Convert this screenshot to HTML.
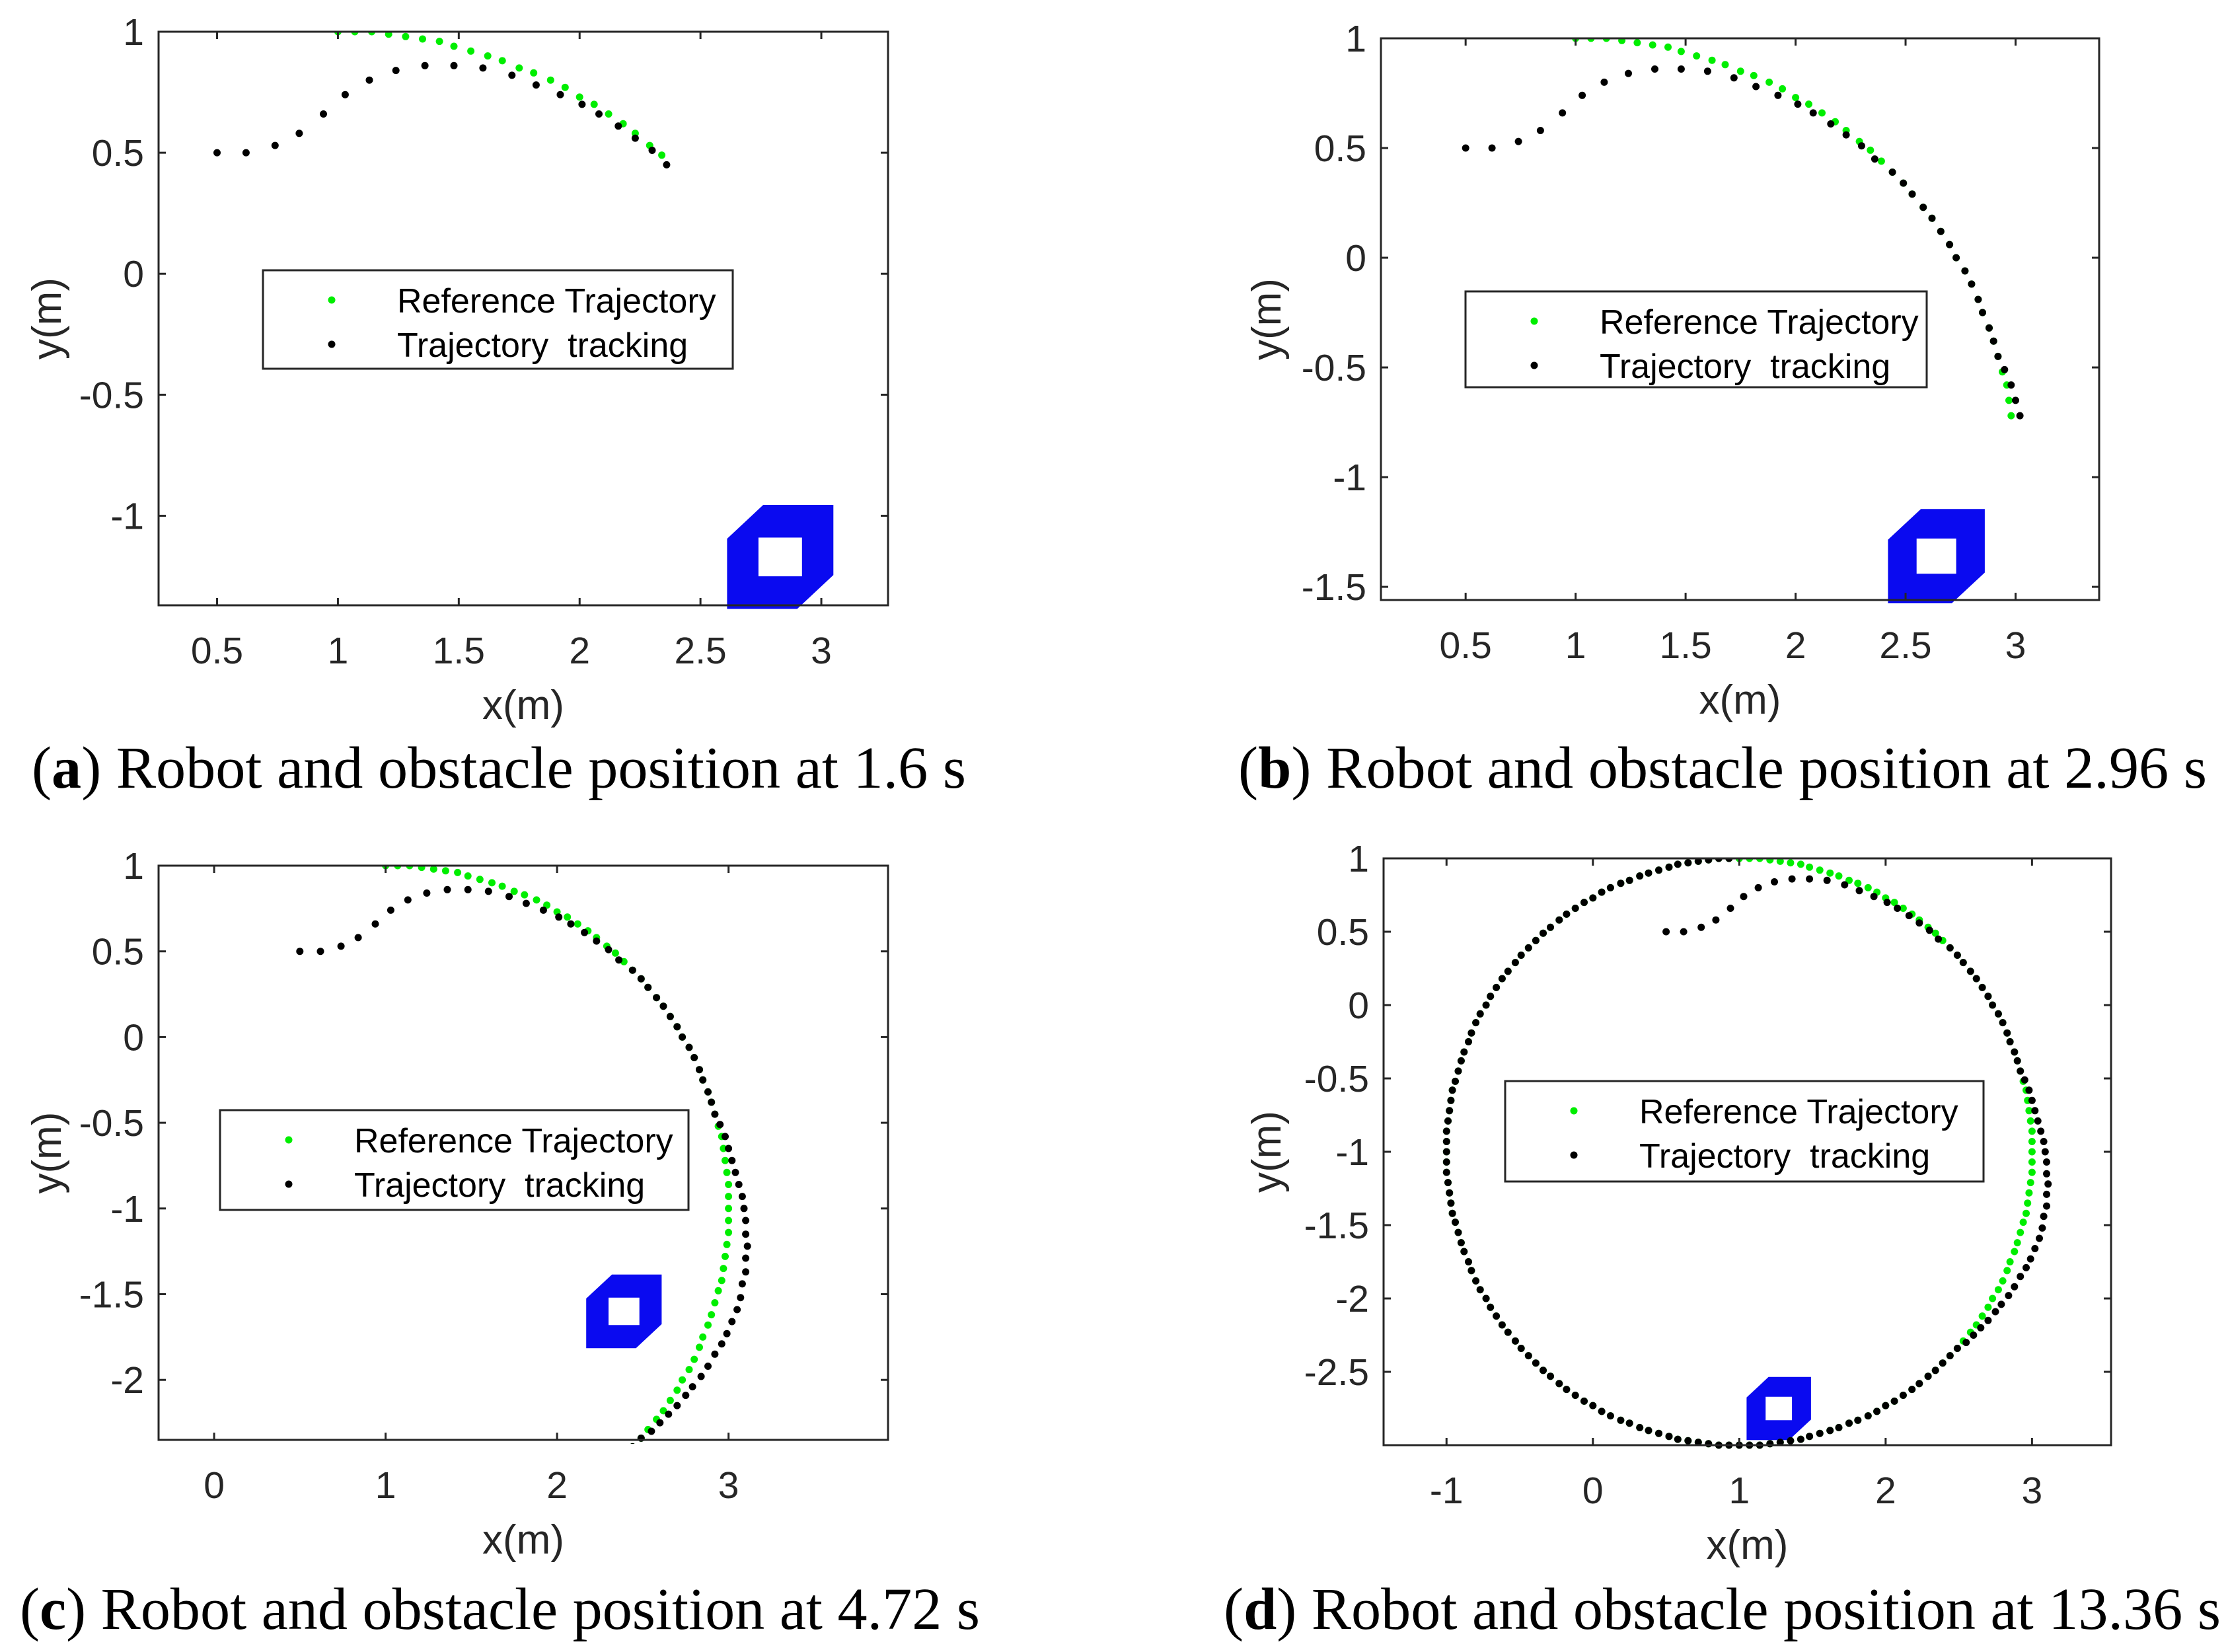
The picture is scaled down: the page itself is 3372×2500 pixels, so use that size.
<!DOCTYPE html>
<html><head><meta charset="utf-8">
<style>
html,body{margin:0;padding:0;background:#fff;}
svg{display:block;}
.tick{font-family:"Liberation Sans",sans-serif;font-size:57px;fill:#262626;}
.atitle{font-family:"Liberation Sans",sans-serif;font-size:62px;fill:#262626;}
.leg{font-family:"Liberation Sans",sans-serif;font-size:52px;fill:#000;white-space:pre;}
.cap{font-family:"Liberation Serif",serif;font-size:90px;fill:#000;}
</style></head>
<body>
<svg id="fig" width="3372" height="2500" viewBox="0 0 3372 2500" xmlns="http://www.w3.org/2000/svg"></svg>
<script>
// ---- data ----
const refX = [1.00,1.07,1.14,1.21,1.28,1.35,1.42,1.48,1.55,1.62,1.68,1.75,1.81,1.88,1.94,2.00,2.06,2.12,2.18,2.23,2.29,2.34,2.39,2.44,2.49,2.53,2.58,2.62,2.66,2.70,2.73,2.77,2.80,2.83,2.85,2.88,2.90,2.92,2.94,2.96,2.97,2.98,2.99,3.00,3.00,3.00,
3.00,3.00,2.99,2.98,2.97,2.96,2.94,2.92,2.90,2.88,2.85,2.83,2.80,2.77,2.73,2.70,2.66,2.62,2.58,2.53,2.49,2.44,2.39,2.34,2.29,2.23,2.18,2.12,2.06,2.00,1.94,1.88,1.81,1.75,1.68,1.62,1.55,1.48,1.42,1.35,1.28,1.21,1.14,1.07,1.00,
0.93,0.86,0.79,0.72,0.65,0.58,0.52,0.45,0.38,0.32,0.25,0.19,0.12,0.06,0.00,-0.06,-0.12,-0.18,-0.23,-0.29,-0.34,-0.39,-0.44,-0.49,-0.53,-0.58,-0.62,-0.66,-0.70,-0.73,-0.77,-0.80,-0.83,-0.85,-0.88,-0.90,-0.92,-0.94,-0.96,-0.97,-0.98,-0.99,-1.00,-1.00,-1.00,
-1.00,-1.00,-0.99,-0.98,-0.97,-0.96,-0.94,-0.92,-0.90,-0.88,-0.85,-0.83,-0.80,-0.77,-0.73,-0.70,-0.66,-0.62,-0.58,-0.53,-0.49,-0.44,-0.39,-0.34,-0.29,-0.23,-0.18,-0.12,-0.06,0.00,0.06,0.12,0.19,0.25,0.32,0.38,0.45,0.52,0.58,0.65,0.72,0.79,0.86,0.93,1.00];
const refY = [1.00,1.00,1.00,0.99,0.98,0.97,0.96,0.94,0.92,0.90,0.88,0.85,0.83,0.80,0.77,0.73,0.70,0.66,0.62,0.58,0.53,0.49,0.44,0.39,0.34,0.29,0.23,0.18,0.12,0.06,0.00,-0.06,-0.12,-0.19,-0.25,-0.32,-0.38,-0.45,-0.52,-0.58,-0.65,-0.72,-0.79,-0.86,-0.93,-1.00,
-1.07,-1.14,-1.21,-1.28,-1.35,-1.42,-1.48,-1.55,-1.62,-1.68,-1.75,-1.81,-1.88,-1.94,-2.00,-2.06,-2.12,-2.18,-2.23,-2.29,-2.34,-2.39,-2.44,-2.49,-2.53,-2.58,-2.62,-2.66,-2.70,-2.73,-2.77,-2.80,-2.83,-2.85,-2.88,-2.90,-2.92,-2.94,-2.96,-2.97,-2.98,-2.99,-3.00,-3.00,-3.00,
-3.00,-3.00,-2.99,-2.98,-2.97,-2.96,-2.94,-2.92,-2.90,-2.88,-2.85,-2.83,-2.80,-2.77,-2.73,-2.70,-2.66,-2.62,-2.58,-2.53,-2.49,-2.44,-2.39,-2.34,-2.29,-2.23,-2.18,-2.12,-2.06,-2.00,-1.94,-1.88,-1.81,-1.75,-1.68,-1.62,-1.55,-1.48,-1.42,-1.35,-1.28,-1.21,-1.14,-1.07,-1.00,
-0.93,-0.86,-0.79,-0.72,-0.65,-0.58,-0.52,-0.45,-0.38,-0.32,-0.25,-0.19,-0.12,-0.06,0.00,0.06,0.12,0.18,0.23,0.29,0.34,0.39,0.44,0.49,0.53,0.58,0.62,0.66,0.70,0.73,0.77,0.80,0.83,0.85,0.88,0.90,0.92,0.94,0.96,0.97,0.98,0.99,1.00,1.00,1.00];
const trackX = [0.50,0.62,0.74,0.84,0.94,1.03,1.13,1.24,1.36,1.48,1.60,1.72,1.82,1.92,2.01,2.08,2.16,2.23,2.30,2.36,
2.44,2.49,2.53,2.58,2.62,2.66,2.70,2.73,2.77,2.80,2.83,2.85,2.88,2.90,2.92,
2.95,2.98,3.00,3.02,3.04,3.06,3.08,3.09,3.10,3.10,3.11,3.10,3.10,3.08,3.07,3.05,3.02,2.99,2.96,2.92,2.88,2.84,2.79,2.75,2.70,2.65,2.60,2.55,2.49,2.44,
2.39,2.34,2.29,2.23,2.18,2.12,2.06,2.00,1.94,1.88,1.81,1.75,1.68,1.62,1.55,1.48,1.42,1.35,1.28,1.21,1.14,1.07,1.00,
0.93,0.86,0.79,0.72,0.65,0.58,0.52,0.45,0.38,0.32,0.25,0.19,0.12,0.06,0.00,-0.06,-0.12,-0.18,-0.23,-0.29,-0.34,-0.39,-0.44,-0.49,-0.53,-0.58,-0.62,-0.66,-0.70,-0.73,-0.77,-0.80,-0.83,-0.85,-0.88,-0.90,-0.92,-0.94,-0.96,-0.97,-0.98,-0.99,-1.00,-1.00,-1.00,
-1.00,-1.00,-0.99,-0.98,-0.97,-0.96,-0.94,-0.92,-0.90,-0.88,-0.85,-0.83,-0.80,-0.77,-0.73,-0.70,-0.66,-0.62,-0.58,-0.53,-0.49,-0.44,-0.39,-0.34,-0.29,-0.23,-0.18,-0.12,-0.06,0.00,0.06,0.12,0.19,0.25,0.32,0.38,0.45,0.52,0.58,0.65,0.72,0.79,0.86,0.93];
const trackY = [0.50,0.50,0.53,0.58,0.66,0.74,0.80,0.84,0.86,0.86,0.85,0.82,0.78,0.74,0.70,0.66,0.61,0.56,0.51,0.45,
0.39,0.34,0.29,0.23,0.18,0.12,0.06,0.00,-0.06,-0.12,-0.19,-0.25,-0.32,-0.38,-0.45,
-0.51,-0.58,-0.65,-0.72,-0.79,-0.86,-0.93,-1.00,-1.07,-1.15,-1.22,-1.29,-1.37,-1.44,-1.52,-1.59,-1.66,-1.73,-1.79,-1.85,-1.92,-1.98,-2.04,-2.09,-2.15,-2.20,-2.25,-2.30,-2.34,-2.39,
-2.44,-2.49,-2.53,-2.58,-2.62,-2.66,-2.70,-2.73,-2.77,-2.80,-2.83,-2.85,-2.88,-2.90,-2.92,-2.94,-2.96,-2.97,-2.98,-2.99,-3.00,-3.00,-3.00,
-3.00,-3.00,-2.99,-2.98,-2.97,-2.96,-2.94,-2.92,-2.90,-2.88,-2.85,-2.83,-2.80,-2.77,-2.73,-2.70,-2.66,-2.62,-2.58,-2.53,-2.49,-2.44,-2.39,-2.34,-2.29,-2.23,-2.18,-2.12,-2.06,-2.00,-1.94,-1.88,-1.81,-1.75,-1.68,-1.62,-1.55,-1.48,-1.42,-1.35,-1.28,-1.21,-1.14,-1.07,-1.00,
-0.93,-0.86,-0.79,-0.72,-0.65,-0.58,-0.52,-0.45,-0.38,-0.32,-0.25,-0.19,-0.12,-0.06,0.00,0.06,0.12,0.18,0.23,0.29,0.34,0.39,0.44,0.49,0.53,0.58,0.62,0.66,0.70,0.73,0.77,0.80,0.83,0.85,0.88,0.90,0.92,0.94,0.96,0.97,0.98,0.99,1.00,1.00];
const refCount = [22, 42, 68, 181];
const trackCount = [20, 39, 65, 178];
const obsCX = [2.83, 2.64, 2.39, 1.27];
const obsCY = [-1.17, -1.36, -1.60, -2.75];
const xTickVals = [[0.5,1,1.5,2,2.5,3],[0.5,1,1.5,2,2.5,3],[0,1,2,3],[-1,0,1,2,3]];
const xTickLabels = [["0.5","1","1.5","2","2.5","3"],["0.5","1","1.5","2","2.5","3"],["0","1","2","3"],["-1","0","1","2","3"]];
const yTickVals = [[1,0.5,0,-0.5,-1],[1,0.5,0,-0.5,-1,-1.5],[1,0.5,0,-0.5,-1,-1.5,-2],[1,0.5,0,-0.5,-1,-1.5,-2,-2.5]];
const yTickLabels = [["1","0.5","0","-0.5","-1"],["1","0.5","0","-0.5","-1","-1.5"],["1","0.5","0","-0.5","-1","-1.5","-2"],["1","0.5","0","-0.5","-1","-1.5","-2","-2.5"]];
const panelLetters = ["a","b","c","d"];
const captionRest = [") Robot and obstacle position at 1.6 s",") Robot and obstacle position at 2.96 s",") Robot and obstacle position at 4.72 s",") Robot and obstacle position at 13.36 s"];

// ---- layout (pixels) ----
const panels = [
 {L:240,R:1344,T:48,B:916,xmin:0.258,xmax:3.276,ymin:-1.37,ymax:1,leg:[398,409,711,149],ytx:92,cap:[48,1192,1414]},
 {L:2090,R:3177,T:58,B:908,xmin:0.115,xmax:3.38,ymin:-1.56,ymax:1,leg:[2218,441,698,145],ytx:1938,cap:[1874,1192,1466]},
 {L:240,R:1344,T:1310,B:2179,xmin:-0.324,xmax:3.93,ymin:-2.35,ymax:1,leg:[333,1680,709,151],ytx:92,cap:[30,2465,1453]},
 {L:2094,R:3195,T:1299,B:2187,xmin:-1.43,xmax:3.54,ymin:-3.0,ymax:1,leg:[2278,1636,724,152],ytx:1938,cap:[1852,2465,1509]}
];
const NS = "http://www.w3.org/2000/svg";
const svg = document.getElementById('fig');
function mk(tag, attrs, parent){const e=document.createElementNS(NS,tag);for(const k in attrs)e.setAttribute(k,attrs[k]);(parent||svg).appendChild(e);return e;}

panels.forEach((p,pi)=>{
  const g = mk('g',{});
  
  
  const sx = v => p.L + (v - p.xmin)/(p.xmax - p.xmin)*(p.R - p.L);
  const sy = v => p.B - (v - p.ymin)/(p.ymax - p.ymin)*(p.B - p.T);
  const cp = mk('clipPath',{id:'clip'+pi},g);
  mk('rect',{x:p.L,y:p.T,width:p.R-p.L,height:p.B-p.T+6},cp);

  // obstacle
  const cx=obsCX[pi], cy=obsCY[pi], hw=0.22, hh=0.215, cw=0.15, ch=0.14, ix=0.09, iy=0.08;
  const outer=[[cx-hw+cw,cy+hh],[cx+hw,cy+hh],[cx+hw,cy-hh+ch],[cx+hw-cw,cy-hh],[cx-hw,cy-hh],[cx-hw,cy+hh-ch]];
  const inner=[[cx-ix,cy+iy],[cx+ix,cy+iy],[cx+ix,cy-iy],[cx-ix,cy-iy]];
  const toD = pts => 'M'+pts.map(q=>sx(q[0]).toFixed(1)+','+sy(q[1]).toFixed(1)).join('L')+'Z';
  const obs = mk('path',{d:toD(outer)+toD(inner),fill:'#0a0af0','fill-rule':'evenodd','clip-path':'url(#clip'+pi+')'},g);
  
  

  // reference dots
  const rg = mk('g',{fill:'#00ee00','clip-path':'url(#clip'+pi+')'},g);
  
  
  for(let i=0;i<refCount[pi];i++){
    const c = mk('circle',{cx:sx(refX[i]).toFixed(1),cy:sy(refY[i]).toFixed(1),r:5.5},rg);
    
    
  }
  // tracking dots
  const tg = mk('g',{fill:'#000','clip-path':'url(#clip'+pi+')'},g);
  
  
  for(let i=0;i<trackCount[pi];i++){
    const c = mk('circle',{cx:sx(trackX[i]).toFixed(1),cy:sy(trackY[i]).toFixed(1),r:5.5},tg);
    
    
  }

  // axes box
  const box = mk('rect',{x:p.L,y:p.T,width:p.R-p.L,height:p.B-p.T,fill:'none',stroke:'#262626','stroke-width':3},g);
  
  
  xTickVals[pi].forEach((v,j)=>{
    const x=sx(v);
    mk('line',{x1:x,y1:p.B,x2:x,y2:p.B-11,stroke:'#262626','stroke-width':3},g);
    mk('line',{x1:x,y1:p.T,x2:x,y2:p.T+11,stroke:'#262626','stroke-width':3},g);
    const t=mk('text',{x:x,y:p.B+88,'text-anchor':'middle',class:'tick'},g);
    t.textContent=xTickLabels[pi][j];
    
    
  });
  yTickVals[pi].forEach((v,j)=>{
    const y=sy(v);
    mk('line',{x1:p.L,y1:y,x2:p.L+11,y2:y,stroke:'#262626','stroke-width':3},g);
    mk('line',{x1:p.R,y1:y,x2:p.R-11,y2:y,stroke:'#262626','stroke-width':3},g);
    const t=mk('text',{x:p.L-22,y:y+20,'text-anchor':'end',class:'tick'},g);
    t.textContent=yTickLabels[pi][j];
    
    
  });
  const xt=mk('text',{x:(p.L+p.R)/2,y:p.B+172,'text-anchor':'middle',class:'atitle'},g);
  xt.textContent='x(m)';
  
  
  const ym=(p.T+p.B)/2;
  const yt=mk('text',{x:p.ytx,y:ym,'text-anchor':'middle',class:'atitle',transform:'rotate(-90 '+p.ytx+' '+ym+')'},g);
  yt.textContent='y(m)';
  
  

  // legend
  const [lx,ly,lw,lh]=p.leg;
  const lg=mk('g',{},g);
  
  
  mk('rect',{x:lx,y:ly,width:lw,height:lh,fill:'#fff',stroke:'#262626','stroke-width':3},lg);
  const e1=mk('g',{},lg);
  
  
  mk('circle',{cx:lx+104,cy:ly+45,r:5.5,fill:'#00ee00'},e1);
  const t1=mk('text',{x:lx+203,y:ly+64,class:'leg'},e1);
  t1.textContent='Reference Trajectory';
  const e2=mk('g',{},lg);
  
  
  mk('circle',{cx:lx+104,cy:ly+112,r:5.5,fill:'#000'},e2);
  const t2=mk('text',{x:lx+203,y:ly+131,class:'leg'},e2);
  t2.textContent='Trajectory  tracking';

  // caption
  const [cx0,cy0,cl]=p.cap;
  const cap=mk('text',{x:cx0,y:cy0,class:'cap',textLength:cl,lengthAdjust:'spacingAndGlyphs'},svg);
  
  
  const s1=mk('tspan',{},cap); s1.textContent='(';
  const s2=mk('tspan',{'font-weight':'bold'},cap); s2.textContent=panelLetters[pi];
  const s3=mk('tspan',{},cap); s3.textContent=captionRest[pi];
});
</script>
</body></html>
